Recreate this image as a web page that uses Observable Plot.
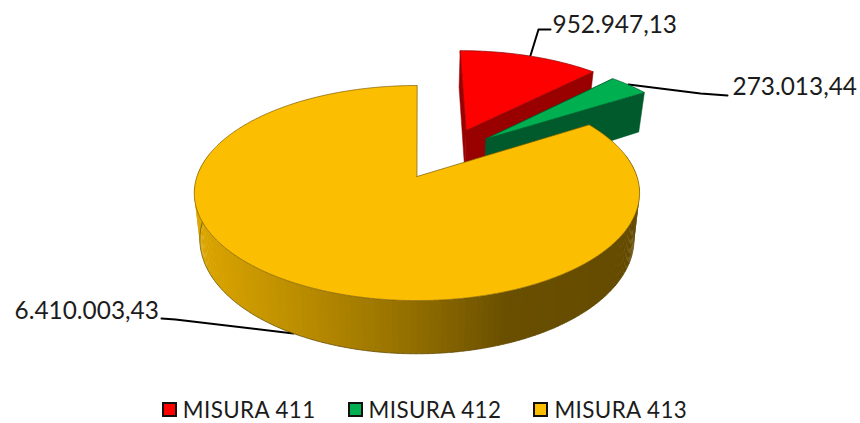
<!DOCTYPE html>
<html>
<head>
<meta charset="utf-8">
<script src="https://cdn.jsdelivr.net/npm/d3@7"></script>
<script src="https://cdn.jsdelivr.net/npm/@observablehq/plot@0.6"></script>
<style>
  html, body { margin: 0; padding: 0; background: #fff; }
  svg { display: block; }
  #legend { display: flex; justify-content: center; align-items: center; height: 27px; width: 860px; box-sizing: border-box; padding-right: 11px;
    font: 22.4px/27px Lato, "Open Sans", sans-serif; letter-spacing: 0.4px; color: #1c1c1c; }
  .item { display: flex; align-items: center; margin: 0 16px; }
  .sw { width: 11px; height: 11px; border: 2px solid #111; margin-right: 6px; }
</style>
</head>
<body>
<div id="chart"></div>
<div id="legend"></div>
<script>
// Data
const categories = ["MISURA 411", "MISURA 412", "MISURA 413"];
const values = [952947.13, 273013.44, 6410003.43];
const valueLabels = ["952.947,13", "273.013,44", "6.410.003,43"];

// Styles
const topColors = ["#ff0000", "#00b050", "#fcbe00"];
const wallColors = ["#990000", "#005a2c", "#a88200"];
const outlineColors = ["#8c0000", "#00602f", "#7a5c00"];

// Layout of the projected pie (a tilted disc in perspective)
const W = 860, H = 396;
const apex = {x: 418, y: 176};
const radius = {x: 220, y: 105};
const persp = 0.154, depth = 45, bottomShrink = 0.975;
const explode = [[0.232, 0.47], [0.325, 0.38], [-0.007, 0]];
const leaders = [
  [[530, 55], [538, 29], [550, 29]],
  [[628, 84], [700, 93], [727, 95]],
  [[293, 333], [175, 319], [161, 318]]
];
const labelAt = [[552, 25], [732, 87], [14, 311]];

// Angles come straight from the values, clockwise from 12 o'clock
const total = d3.sum(values);
let acc = 0;
const slices = values.map((v, i) => {
  const a0 = acc / total * 2 * Math.PI;
  acc += v;
  return {i, a0, a1: acc / total * 2 * Math.PI};
});

function project(u, v, bottom, ex) {
  const U = u + ex[0], V = v + ex[1];
  const w = 1 / (1 + persp * V);
  const s = bottom ? bottomShrink : 1;
  return {
    x: apex.x + radius.x * U * w * s,
    y: apex.y - radius.y * V * w + (bottom ? depth * w : 0)
  };
}
const rim = (a, bottom, ex) => project(Math.sin(a), Math.cos(a), bottom, ex);
const hub = (bottom, ex) => project(0, 0, bottom, ex);

const polys = [];
function addPoly(id, pts, fill, stroke, sw) {
  const closed = pts.concat([pts[0]]);
  closed.forEach(p => polys.push({id, x: p.x, y: p.y, fill, stroke, sw}));
}
function arcPts(a0, a1, bottom, ex, step = 0.01) {
  const n = Math.max(2, Math.ceil((a1 - a0) / step));
  return d3.range(n + 1).map(k => rim(a0 + (a1 - a0) * k / n, bottom, ex));
}

// Gradient of the big slice's outer wall
const wallShade = d3.scaleLinear()
  .domain([195, 300, 420, 505, 640])
  .range(["#dca600", "#ba8c00", "#8f6c00", "#6a4f00", "#644b00"]);

slices.forEach(s => {
  const ex = explode[s.i];
  const c = wallColors[s.i];
  if (s.i < 2) {
    // cut faces
    addPoly(`w0${s.i}`, [hub(false, ex), rim(s.a0, false, ex), rim(s.a0, true, ex), hub(true, ex)], c, c, 0.5);
    addPoly(`w1${s.i}`, [hub(false, ex), rim(s.a1, false, ex), rim(s.a1, true, ex), hub(true, ex)], c, c, 0.5);
  } else {
    // outer wall, split to follow the shading
    const a0 = 78 * Math.PI / 180, a1 = 282 * Math.PI / 180, n = 150;
    d3.range(n).forEach(k => {
      const p = a0 + (a1 - a0) * k / n, q = a0 + (a1 - a0) * (k + 1.3) / n;
      const t0 = rim(p, false, ex), t1 = rim(q, false, ex), b1 = rim(q, true, ex), b0 = rim(p, true, ex);
      const col = wallShade((t0.x + t1.x) / 2);
      addPoly(`wall${k}`, [t0, t1, b1, b0], col, "none", 0);
    });
    // dark edge along the bottom of the wall
    const edge = arcPts(a0, a1, true, ex);
    edge.forEach(p => polys.push({id: "edge", x: p.x, y: p.y, fill: "none", stroke: "#5a4500", sw: 0.7}));
  }
  const top = [hub(false, ex)].concat(arcPts(s.a0, s.a1, false, ex));
  addPoly(`top${s.i}`, top, topColors[s.i], outlineColors[s.i], 0.7);
});

const leaderData = leaders.flatMap((l, i) => l.map(p => ({i, x: p[0], y: p[1]})));
const labelData = valueLabels.map((text, i) => ({text, x: labelAt[i][0], y: labelAt[i][1]}));

const chart = Plot.plot({
  width: W, height: H,
  margin: 0,
  x: {domain: [0, W], range: [0, W], axis: null},
  y: {domain: [0, H], range: [0, H], axis: null},
  marks: [
    Plot.line(leaderData, {x: "x", y: "y", z: "i", stroke: "#000", strokeWidth: 2, curve: "linear"}),
    ...d3.groups(polys, d => d.id).map(([id, pts]) =>
      Plot.line(pts, {x: "x", y: "y", fill: pts[0].fill, stroke: pts[0].stroke, strokeWidth: pts[0].sw, curve: "linear"})),
    Plot.text(labelData, {x: "x", y: "y", text: "text", textAnchor: "start", lineAnchor: "middle",
      fontSize: 24.4, fontFamily: 'Lato, "Open Sans", sans-serif', fill: "#1c1c1c"})
  ]
});
document.getElementById("chart").appendChild(chart);

const legend = document.getElementById("legend");
categories.forEach((c, i) => {
  const item = document.createElement("div");
  item.className = "item";
  const sw = document.createElement("div");
  sw.className = "sw";
  sw.style.background = topColors[i];
  const t = document.createElement("span");
  t.textContent = c;
  item.append(sw, t);
  legend.append(item);
});
</script>
</body>
</html>
